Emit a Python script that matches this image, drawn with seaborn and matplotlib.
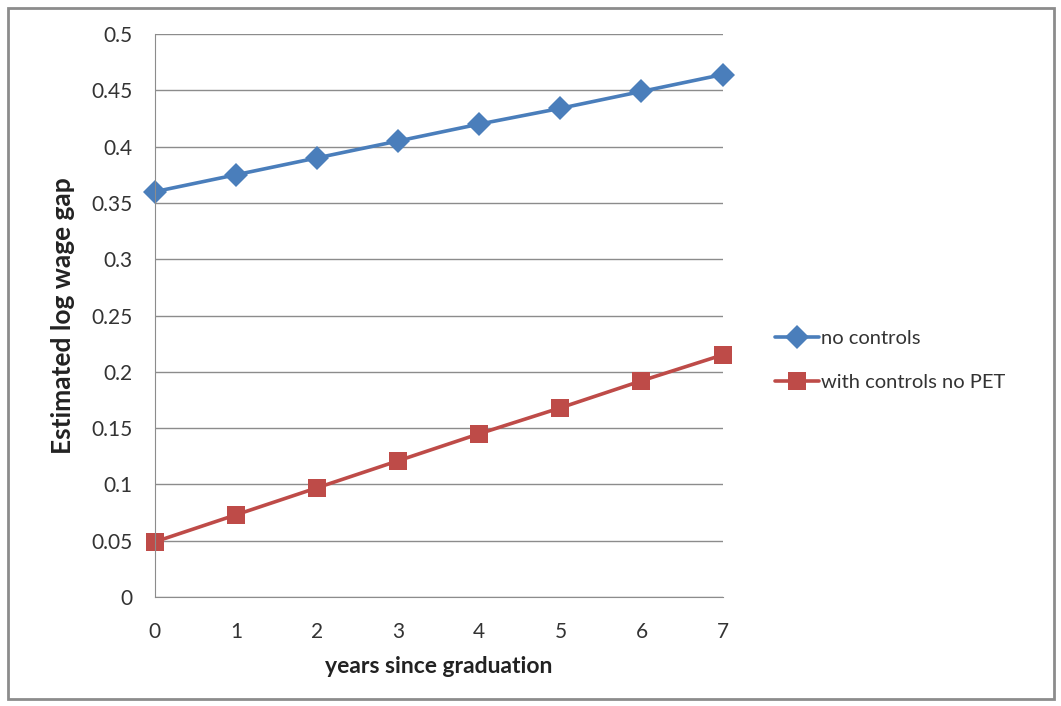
import pandas as pd
import matplotlib.pyplot as plt
import seaborn as sns
from matplotlib.patches import Rectangle

# Данные
years = [0, 1, 2, 3, 4, 5, 6, 7]
no_controls = [0.360, 0.375, 0.390, 0.405, 0.420, 0.434, 0.449, 0.464]
with_controls = [0.049, 0.073, 0.097, 0.121, 0.145, 0.168, 0.192, 0.215]
series_names = ["no controls", "with controls no PET"]

df = pd.DataFrame({
    "years": years * 2,
    "gap": no_controls + with_controls,
    "series": [series_names[0]] * len(years) + [series_names[1]] * len(years),
})

sns.set_style("white")
plt.rcParams['font.family'] = ['Lato', 'DejaVu Sans']

palette = {series_names[0]: "#4A7EBB", series_names[1]: "#BE4B48"}
markers = {series_names[0]: "D", series_names[1]: "s"}

fig = plt.figure(figsize=(10.61, 7.06), dpi=100)
ax = fig.add_axes([0.146, 0.1544, 0.535, 0.7974])

sns.lineplot(
    data=df, x="years", y="gap", hue="series", style="series",
    palette=palette, markers=markers, dashes=False,
    linewidth=2.6, markersize=12, markeredgewidth=0, ax=ax
)
for line in ax.lines:
    line.set_clip_on(False)
    if line.get_marker() == "s":
        line.set_markersize(13.5)

ax.set_xlim(0, 7)
ax.set_ylim(0, 0.5)
ax.set_xticks(years)
ax.set_yticks([0, 0.05, 0.1, 0.15, 0.2, 0.25, 0.3, 0.35, 0.4, 0.45, 0.5])
ax.set_yticklabels(["0", "0.05", "0.1", "0.15", "0.2", "0.25", "0.3",
                    "0.35", "0.4", "0.45", "0.5"])
ax.yaxis.grid(True, color="#8C8C8C", linewidth=1)
ax.set_axisbelow(True)

for side in ["top", "right"]:
    ax.spines[side].set_visible(False)
ax.spines["left"].set_color("#8C8C8C")
ax.spines["bottom"].set_color("#8C8C8C")

ax.tick_params(axis="both", direction="out", length=6, color="#8C8C8C",
               labelsize=15, labelcolor="#333333")
ax.tick_params(axis="x", pad=12)
ax.tick_params(axis="y", pad=10)

ax.set_xlabel("years since graduation", fontsize=16.5, fontweight="bold",
              color="#222222", labelpad=10)
ax.set_ylabel("Estimated log wage gap", fontsize=19, fontweight="bold",
              color="#222222", labelpad=12)

leg = ax.legend(loc="center left", bbox_to_anchor=(1.06, 0.42), frameon=False,
                fontsize=14.5, handlelength=2.2, handletextpad=0.1,
                labelspacing=1.35)
for text in leg.get_texts():
    text.set_color("#333333")

# Рамка вокруг диаграммы
fig.patches.append(Rectangle((0.008, 0.01), 0.985, 0.978, transform=fig.transFigure,
                             fill=False, edgecolor="#8C8C8C", linewidth=2))

fig.savefig("out.png", dpi=100)
